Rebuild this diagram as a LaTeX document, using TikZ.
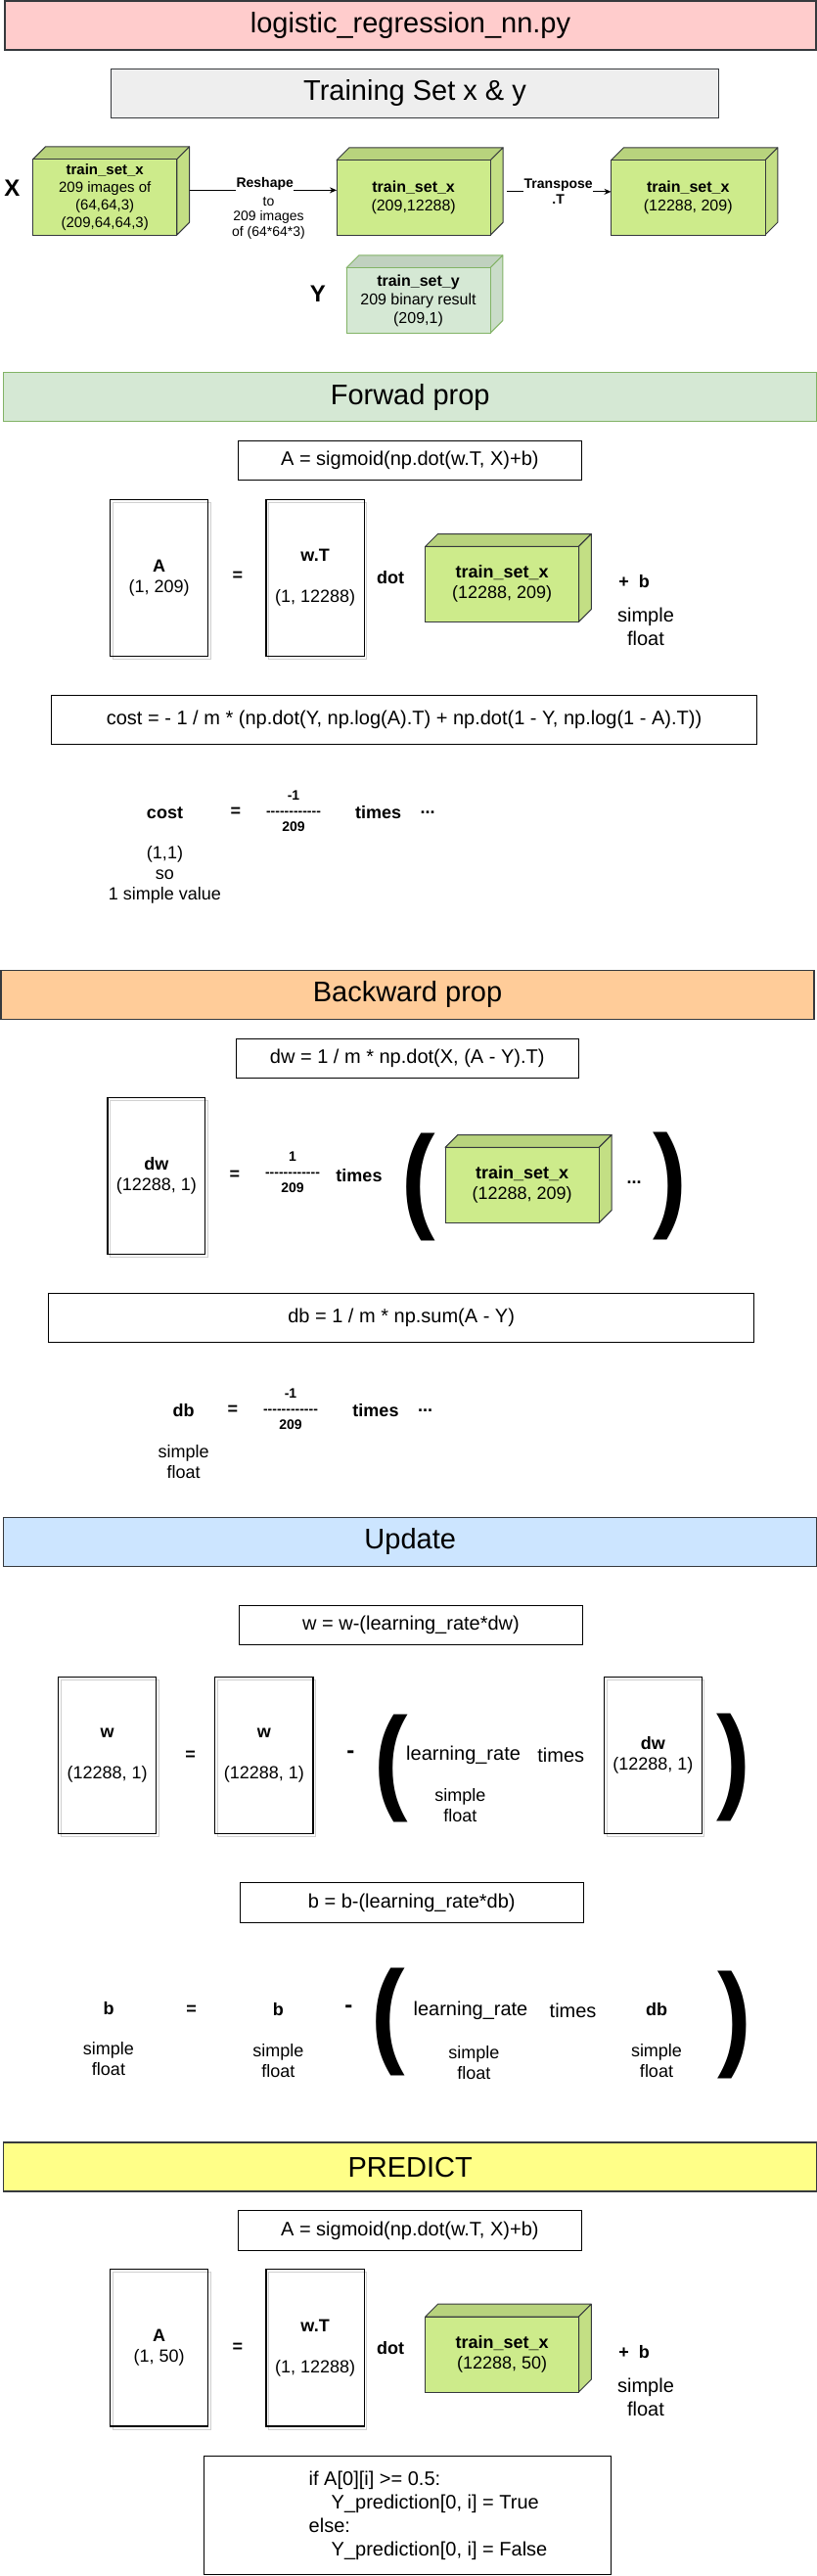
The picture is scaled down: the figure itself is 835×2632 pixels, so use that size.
\documentclass[tikz,border=0pt]{standalone}
\usepackage{fontspec}
\setmainfont{Liberation Sans}
\usetikzlibrary{arrows.meta}
\definecolor{pinkc}{HTML}{FFCCCC}
\definecolor{grayc}{HTML}{EEEEEE}
\definecolor{bord}{HTML}{36393D}
\definecolor{cubec}{HTML}{CDEB8B}
\definecolor{greenc}{HTML}{D5E8D4}
\definecolor{greenb}{HTML}{82B366}
\definecolor{orangec}{HTML}{FFCC99}
\definecolor{bluec}{HTML}{CCE5FF}
\definecolor{yellowc}{HTML}{FFFF88}
\definecolor{shadowc}{HTML}{D0D0D0}

\newcommand{\dashrow}{-{}-{}-{}-{}-{}-{}-{}-{}-{}-{}-{}-}
\newcommand{\bigpar}[1]{\scalebox{0.88}[1]{#1}}

% #1 name, #2 x1, #3 y1, #4 x2, #5 y2 (front face), #6 fill, #7 border, #8 font style, #9 text
\newcommand{\mkcube}[9]{%
  \pgfmathsetmacro\cubeW{#4-#2}%
  \pgfmathsetmacro\cubeH{#5-#3}%
  \filldraw[fill=#6!90!black, draw=#7, line width=1pt, line join=round]
    (#2,#3) -- (#2+12.8,#3-12.8) -- (#4+12.8,#3-12.8) -- (#4,#3) -- cycle;
  \filldraw[fill=#6!95!black, draw=#7, line width=1pt, line join=round]
    (#4,#3) -- (#4+12.8,#3-12.8) -- (#4+12.8,#5-12.8) -- (#4,#5) -- cycle;
  \node[draw=#7, fill=#6, line width=1pt, minimum width=\cubeW pt, minimum height=\cubeH pt,
        anchor=north west, align=center, #8] (#1) at (#2,#3) {#9};
}
% #1 name, #2 x1, #3 y1, #4 x2, #5 y2, #6 text
\newcommand{\mkmat}[6]{%
  \pgfmathsetmacro\matW{#4-#2}%
  \pgfmathsetmacro\matH{#5-#3}%
  \draw[shadowc, line width=1pt] (#2+2.5,#3+3) rectangle (#4+2.5,#5+3);
  \node[matbox, minimum width=\matW pt, minimum height=\matH pt, anchor=north west] (#1) at (#2,#3) {#6};
}

\tikzset{
  every node/.style={inner sep=0pt, outer sep=0pt},
  f29/.style={font=\fontsize{29}{34}\selectfont},
  f20/.style={font=\fontsize{20}{24}\selectfont},
  f18/.style={font=\fontsize{18}{21}\selectfont},
  c15/.style={font=\fontsize{15}{18}\selectfont},
  c16/.style={font=\fontsize{16}{19}\selectfont},
  b14/.style={font=\bfseries\fontsize{14}{16}\selectfont},
  b18/.style={font=\bfseries\fontsize{18}{21}\selectfont},
  b24/.style={font=\bfseries\fontsize{24}{28}\selectfont},
  fracst/.style={font=\bfseries\fontsize{14}{16}\selectfont, align=center},
  secbox/.style={draw=bord, line width=1.3pt, f29, minimum height=50pt},
  eqbox/.style={draw=black, line width=1pt, fill=white, f20},
  matbox/.style={draw=black, line width=1.2pt, align=center, f18},
  paren/.style={font=\bfseries\fontsize{118}{120}\selectfont},
  arr/.style={-{Stealth[length=7pt,width=6pt]}, line width=1pt},
}

\begin{document}
\begin{tikzpicture}[x=1pt,y=-1pt]
\useasboundingbox (0,0) rectangle (835,2632);
\fill[white] (0,0) rectangle (835,2632);

% ---------- header ----------
\node[secbox, fill=pinkc, minimum width=829pt] (title) at (419.5,26) {logistic\_regression\_nn.py};
\node[secbox, fill=grayc, minimum width=620.8pt] (tset) at (424,95.3) {Training Set x \& y};

\node[b24] (xlab) at (12.5,192) {X};
\mkcube{cA}{33.6}{162.7}{180.8}{240}{cubec}{bord}{c15}{\textbf{train\_set\_x}\\209 images of\\(64,64,3)\\(209,64,64,3)}
\mkcube{cB}{344}{163.7}{501.3}{240}{cubec}{bord}{c16}{\textbf{train\_set\_x}\\(209,12288)}
\mkcube{cC}{624.5}{163.7}{782}{240}{cubec}{bord}{c16}{\textbf{train\_set\_x}\\(12288, 209)}
\node[b24] (ylab) at (325,300) {Y};
\mkcube{cY}{354}{273.7}{501}{340.3}{greenc}{greenb}{c16}{\textbf{train\_set\_y}\\209 binary result\\(209,1)}

\coordinate (a1s) at ([shift={(12.8,-7)}]cA.east);
\draw[arr] (a1s) -- (a1s -| cB.west);
\node[b14, fill=white, inner ysep=3pt, inner xsep=0.5pt] (resh) at (270.7,187.5) {Reshape};
\node[font=\fontsize{14}{15.5}\selectfont, align=center] (reshB) at (274.5,222.5) {to\\209 images\\of (64*64*3)};

\coordinate (a2s) at ([shift={(17,-6)}]cB.east);
\draw[arr] (a2s) -- (a2s -| cC.west);
\node[b14, fill=white, inner ysep=3pt, inner xsep=0.5pt] (trn) at (570.7,188.7) {Transpose};
\node[b14] (trT) at (570.7,204) {.T};

% ---------- forward ----------
\node[secbox, fill=greenc, draw=greenb, minimum width=831pt] (fwd) at (419.2,405.5) {Forwad prop};
\node[eqbox, minimum width=350.3pt, minimum height=40pt] (fA) at (418.85,470.3) {A = sigmoid(np.dot(w.T, X)+b)};
\mkmat{mA}{112.5}{510.3}{212.8}{670.3}{\textbf{A}\\(1, 209)}
\node[b18] (eq1) at (243,589) {=};
\mkmat{mW}{272}{510.3}{372.3}{670.3}{\textbf{w.T}\\\mbox{}\\(1, 12288)}
\node[b18] (dot1) at (399,590) {dot};
\mkcube{cF}{434.7}{558.3}{591.5}{635.3}{cubec}{bord}{f18}{\textbf{train\_set\_x}\\(12288, 209)}
\node[b18] (pb1) at (648,594) {+~~b};
\node[f20, align=center] (sf1) at (660,640.3) {simple\\float};
\node[eqbox, minimum width=720.5pt, minimum height=50pt] (cost) at (413.05,735.3) {cost = - 1 / m * (np.dot(Y, np.log(A).T) + np.dot(1 - Y, np.log(1 - A).T))};

\node[b18] (costl) at (168.5,831) {cost};
\node[b18] (eq2) at (241,830) {=};
\node[fracst] (fr1) at (300,828.3) {-1\\\dashrow\\209};
\node[b18] (tm1) at (386.7,830) {times};
\node[b18] (dd1) at (437,830) {...};
\node[f18, align=center] (cval) at (168.5,894.3) {(1,1)\\so\\1 simple value};

% ---------- backward ----------
\node[secbox, fill=orangec, minimum width=831pt] (bwd) at (416.5,1016.3) {Backward prop};
\node[eqbox, minimum width=350.5pt, minimum height=39.6pt] (fdw) at (416.25,1081.5) {dw = 1 / m * np.dot(X, (A - Y).T)};
\mkmat{mdw}{110}{1121.3}{209.6}{1281.7}{\textbf{dw}\\(12288, 1)}
\node[b18] (eq3) at (240,1200.7) {=};
\node[fracst] (fr2) at (299,1197.7) {1\\\dashrow\\209};
\node[b18] (tm2) at (367,1201) {times};
\node[paren] (lp1) at (428,1213) {\bigpar{(}};
\mkcube{cX}{455}{1172.3}{612.3}{1249.3}{cubec}{bord}{f18}{\textbf{train\_set\_x}\\(12288, 209)}
\node[b18] (dd2) at (648,1208) {...};
\node[paren] (rp1) at (685,1211.5) {\bigpar{)}};
\node[eqbox, minimum width=721.1pt, minimum height=49.6pt] (fdb) at (410.15,1346.5) {db = 1 / m * np.sum(A - Y)};
\node[b18] (dbl) at (187.7,1441) {db};
\node[b18] (eq4) at (238,1441) {=};
\node[fracst] (fr3) at (297,1439.3) {-1\\\dashrow\\209};
\node[b18] (tm3) at (384,1441) {times};
\node[b18] (dd3) at (434.7,1441) {...};
\node[f18, align=center] (sf2) at (187.7,1493.7) {simple\\float};

% ---------- update ----------
\node[secbox, fill=bluec, minimum width=831pt] (upd) at (419.2,1575.3) {Update};
\node[eqbox, minimum width=350.4pt, minimum height=40pt] (fw) at (420,1660.3) {w = w-(learning\_rate*dw)};
\mkmat{mw1}{59.7}{1713.3}{159.5}{1873.3}{\textbf{w}\\\mbox{}\\(12288, 1)}
\node[b18] (eq5) at (194.7,1793.3) {=};
\mkmat{mw2}{219.7}{1713.3}{320}{1873.3}{\textbf{w}\\\mbox{}\\(12288, 1)}
\node[b24] (mn1) at (358.4,1792.3) {-};
\node[paren] (lp2) at (399.5,1807.3) {\bigpar{(}};
\node[f20] (lr1) at (473.6,1793.3) {learning\_rate};
\node[f20] (tm4) at (573.3,1793.3) {times};
\node[f18, align=center] (sf3) at (470.4,1844.8) {simple\\float};
\mkmat{mdw2}{617.6}{1713.3}{717.3}{1873.3}{\textbf{dw}\\(12288, 1)}
\node[paren] (rp2) at (750,1805.7) {\bigpar{)}};

\node[eqbox, minimum width=351pt, minimum height=40.3pt] (fb) at (420.8,1943.85) {b = b-(learning\_rate*db)};
\node[b18] (b1) at (111,2051.7) {b};
\node[f18, align=center] (sf4) at (111,2103.8) {simple\\float};
\node[b18] (eq6) at (195.7,2053.3) {=};
\node[b18] (b2) at (284.3,2053.3) {b};
\node[f18, align=center] (sf5) at (284.3,2105.5) {simple\\float};
\node[b24] (mn2) at (356.3,2053) {-};
\node[paren] (lp3) at (396.5,2066.3) {\bigpar{(}};
\node[f20] (lr2) at (481,2054.3) {learning\_rate};
\node[f20] (tm5) at (585.6,2054.3) {times};
\node[b18] (db2) at (671,2053.3) {db};
\node[f18, align=center] (sf6) at (484.3,2107.2) {simple\\float};
\node[f18, align=center] (sf7) at (671,2105.5) {simple\\float};
\node[paren] (rp3) at (751,2068.5) {\bigpar{)}};

% ---------- predict ----------
\node[secbox, fill=yellowc, minimum width=831pt] (pred) at (419.2,2214) {PREDICT};
\node[eqbox, minimum width=350.3pt, minimum height=40.3pt] (fA2) at (418.85,2278.85) {A = sigmoid(np.dot(w.T, X)+b)};
\mkmat{mA2}{112.5}{2318.7}{212.8}{2479}{\textbf{A}\\(1, 50)}
\node[b18] (eq7) at (243,2399) {=};
\mkmat{mW2}{272}{2318.7}{372.3}{2479}{\textbf{w.T}\\\mbox{}\\(1, 12288)}
\node[b18] (dot2) at (399,2399.3) {dot};
\mkcube{cP}{434.7}{2367}{591.5}{2444}{cubec}{bord}{f18}{\textbf{train\_set\_x}\\(12288, 50)}
\node[b18] (pb2) at (648,2403.3) {+~~b};
\node[f20, align=center] (sf8) at (660,2449.3) {simple\\float};
\node[draw=black, line width=1pt, minimum width=416.5pt, minimum height=121pt] (ifb) at (416.25,2570.2) {};
\node[f20, align=left, anchor=west] (ifc) at (315.7,2570.4) {if A[0][i] >= 0.5:\\\hspace*{23pt}Y\_prediction[0, i] = True\\else:\\\hspace*{23pt}Y\_prediction[0, i] = False};
\end{tikzpicture}
\end{document}
